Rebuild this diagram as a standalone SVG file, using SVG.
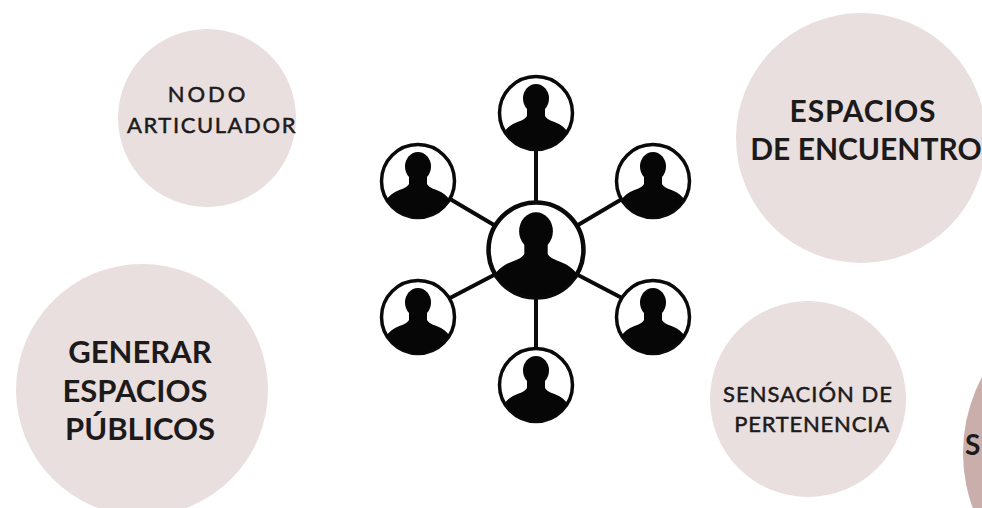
<svg xmlns="http://www.w3.org/2000/svg" xmlns:xlink="http://www.w3.org/1999/xlink" width="982" height="508" viewBox="0 0 982 508">
<style>
.blob{fill:#e9dfde}
.t{font-family:"Lato","Liberation Sans",sans-serif;fill:#1c1a1a;font-weight:700;text-anchor:middle}
.m{font-weight:400;stroke:#1c1a1a;stroke-width:.5}
.link{stroke:#0a0a0a;stroke-width:4;fill:none}
.ring{fill:#fff;stroke:#0a0a0a}
</style>
<defs>
<clipPath id="c"><circle r="36"/></clipPath>
<g id="p">
<circle class="ring" r="36.5" stroke-width="3.5"/>
<g clip-path="url(#c)" fill="#060606">
<ellipse cx="0" cy="-14.500" rx="13" ry="14.500"/>
<path d="M-9-6H9V3C11 7 17 8 23 11C28 14 31 17 33 21V40H-33V21C-31 17-28 14-23 11C-17 8-11 7-9 3Z"/>
</g>
</g>
</defs>
<rect width="982" height="508" fill="#fff"/>
<g id="connectors">
<path class="link" d="M536 150V212M536 288V350M450 199L494 225M578 225L622 199M494 275L450 298M578 275L622 298"/>
</g>
<g id="nodo"><circle class="blob" cx="207" cy="118" r="89"/>
<text class="t m" font-size="22"><tspan x="208" y="102" letter-spacing="3">NODO</tspan><tspan x="212" y="133" letter-spacing="1.6">ARTICULADOR</tspan></text></g>
<g id="espacios-encuentro"><circle class="blob" cx="861" cy="138" r="125"/>
<text class="t" font-size="30"><tspan x="863" y="122" letter-spacing=".8">ESPACIOS</tspan><tspan x="866" y="160">DE ENCUENTRO</tspan></text></g>
<g id="generar"><circle class="blob" cx="142" cy="390" r="126"/>
<text class="t" font-size="31"><tspan x="140" y="363">GENERAR</tspan><tspan x="135" y="402">ESPACIOS</tspan><tspan x="140" y="440">PÚBLICOS</tspan></text></g>
<g id="sensacion"><circle class="blob" cx="808" cy="399" r="98"/>
<text class="t m" font-size="22"><tspan x="808" y="402" letter-spacing="1">SENSACIÓN DE</tspan><tspan x="812" y="432" letter-spacing=".8">PERTENENCIA</tspan></text></g>
<g id="parcial"><circle cx="1124" cy="453" r="161" fill="#c9aeac"/>
<text class="t" x="965" y="455" font-size="28" style="text-anchor:start">S</text></g>
<g id="persona-centro"><use xlink:href="#p" transform="translate(536 250) scale(1.3)"/></g>
<g id="persona-arriba"><use xlink:href="#p" x="536" y="113"/></g>
<g id="persona-arriba-izq"><use xlink:href="#p" x="418" y="181"/></g>
<g id="persona-arriba-der"><use xlink:href="#p" x="653" y="181"/></g>
<g id="persona-abajo-izq"><use xlink:href="#p" x="418" y="317"/></g>
<g id="persona-abajo-der"><use xlink:href="#p" x="653" y="317"/></g>
<g id="persona-abajo"><use xlink:href="#p" x="536" y="385"/></g>
</svg>
